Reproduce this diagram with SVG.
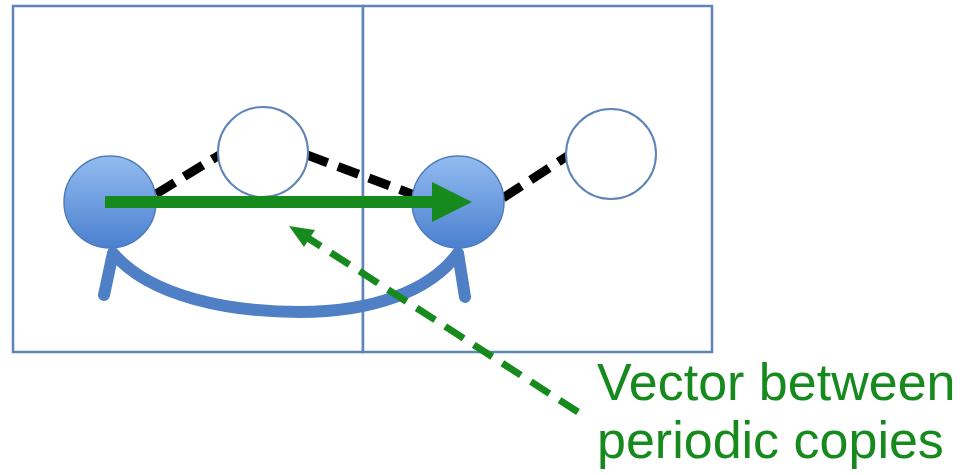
<svg xmlns="http://www.w3.org/2000/svg" width="977" height="475" viewBox="0 0 977 475">
<defs>
<linearGradient id="blueGrad" x1="0" y1="0" x2="0" y2="1">
<stop offset="0" stop-color="#93bbf0"/>
<stop offset="1" stop-color="#4a80cf"/>
</linearGradient>
</defs>
<style>
.cell{fill:#ffffff;stroke:#5f84b8;stroke-width:2.5}
.atom{fill:url(#blueGrad);stroke:#4f7bbd;stroke-width:1.5}
.ghost{fill:#ffffff;stroke:#5f84b8;stroke-width:2}
.bond{stroke:#000000;stroke-width:9;stroke-dasharray:22 11;fill:none}
.label{font-family:"Liberation Sans",Arial,sans-serif;font-size:52px;fill:#178a1e}
</style>
<rect width="977" height="475" fill="#ffffff"/>
<g id="cell-left"><rect class="cell" x="13" y="6" width="350" height="346"/></g>
<g id="cell-right"><rect class="cell" x="363" y="6" width="349" height="346"/></g>
<g id="connectors">
<line class="bond" x1="156" y1="194" x2="221" y2="154"/>
<line class="bond" x1="307" y1="155" x2="417" y2="196"/>
<line class="bond" x1="503" y1="198" x2="569" y2="155"/>
</g>
<g id="ghost-1"><circle class="ghost" cx="263" cy="152" r="45"/></g>
<g id="ghost-2"><circle class="ghost" cx="611" cy="154" r="45"/></g>
<g id="atom-1"><circle class="atom" cx="110" cy="202" r="46"/></g>
<g id="atom-2"><circle class="atom" cx="458" cy="202" r="46"/></g>
<g id="arrows">
<path d="M104,295 L113,253 C150,297 230,312 300,312 C370,312 430,292 458,253 L465,297" fill="none" stroke="#4f7fc4" stroke-width="12" stroke-linecap="round" stroke-linejoin="round"/>
<line x1="105" y1="202" x2="434" y2="202" stroke="#178a1e" stroke-width="12"/>
<path d="M432,182 L472,202 L432,222 Z" fill="#178a1e"/>
<line x1="578" y1="412" x2="308" y2="238" stroke="#178a1e" stroke-width="7" stroke-dasharray="22 12"/>
<path d="M289,226 L315,230 L304,247 Z" fill="#178a1e"/>
</g>
<g id="caption">
<text class="label" x="597" y="400">Vector between</text>
<text class="label" x="597" y="458">periodic copies</text>
</g>
</svg>
